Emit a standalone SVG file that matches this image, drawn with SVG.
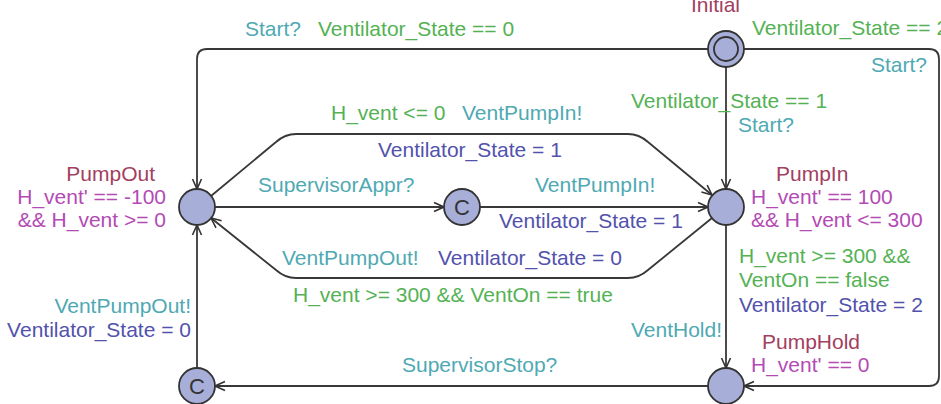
<svg xmlns="http://www.w3.org/2000/svg" width="941" height="404" viewBox="0 0 941 404">
<style>
text{font-family:"Liberation Sans",Arial,sans-serif;font-size:21px}
.g{fill:#54b254}.s{fill:#4fa9b3}.u{fill:#5252ad}.n{fill:#a2405f}.i{fill:#b44ab4}
.loc{fill:#a7aed7;stroke:#333;stroke-width:1.8}
.e{fill:none;stroke:#383838;stroke-width:1.8}
.c{fill:#333;font-size:22px}
</style>
<defs>
<marker id="arr" viewBox="0 0 12 12" refX="11" refY="6" markerWidth="12" markerHeight="12" orient="auto" markerUnits="userSpaceOnUse">
<path d="M1,1.5 L11,6 L1,10.5" fill="none" stroke="#333" stroke-width="1.6"/>
</marker>
</defs>
<rect width="941" height="404" fill="#fff"/>
<g id="connectors">
<path class="e" marker-end="url(#arr)" d="M708,49 L207,49 Q197,49 197,59 L197,189"/>
<path class="e" marker-end="url(#arr)" d="M726,67 L726,189"/>
<path class="e" marker-end="url(#arr)" d="M744,49 L929,49 Q939,49 939,59 L939,376 Q939,386 929,386 L744,386"/>
<path class="e" marker-end="url(#arr)" d="M211,196 L276,142 Q285,134 296,134 L628,134 Q639,134 648,142 L712,195"/>
<path class="e" marker-end="url(#arr)" d="M215,207 L444,207"/>
<path class="e" marker-end="url(#arr)" d="M480,207 L708,207"/>
<path class="e" marker-end="url(#arr)" d="M712,218 L648,270 Q639,278 628,278 L296,278 Q285,278 276,270 L211,218"/>
<path class="e" marker-end="url(#arr)" d="M726,225 L726,368"/>
<path class="e" marker-end="url(#arr)" d="M708,386 L215,386"/>
<path class="e" marker-end="url(#arr)" d="M197,368 L197,225"/>
<g id="edge-labels">
<text class="s" x="245" y="36">Start?</text>
<text class="g" x="318" y="36">Ventilator_State == 0</text>
<text class="g" x="752" y="35">Ventilator_State == 2</text>
<text class="s" x="871" y="72">Start?</text>
<text class="g" x="631" y="108">Ventilator_State == 1</text>
<text class="s" x="738" y="132">Start?</text>
<text class="g" x="331" y="120">H_vent &lt;= 0</text>
<text class="s" x="462" y="120">VentPumpIn!</text>
<text class="u" x="378" y="157">Ventilator_State = 1</text>
<text class="s" x="258" y="192">SupervisorAppr?</text>
<text class="s" x="535" y="192">VentPumpIn!</text>
<text class="u" x="499" y="228">Ventilator_State = 1</text>
<text class="s" x="282" y="265">VentPumpOut!</text>
<text class="u" x="438" y="265">Ventilator_State = 0</text>
<text class="g" x="293" y="302">H_vent &gt;= 300 &amp;&amp; VentOn == true</text>
<text class="g" x="739" y="263">H_vent &gt;= 300 &amp;&amp;</text>
<text class="g" x="739" y="287">VentOn == false</text>
<text class="u" x="739" y="312">Ventilator_State = 2</text>
<text class="s" x="722" y="337" text-anchor="end">VentHold!</text>
<text class="s" x="402" y="372">SupervisorStop?</text>
<text class="s" x="191" y="313" text-anchor="end">VentPumpOut!</text>
<text class="u" x="191" y="337" text-anchor="end">Ventilator_State = 0</text>
</g>
</g>
<g id="Initial">
<circle class="loc" cx="726" cy="49" r="18"/>
<circle cx="726" cy="49" r="12" fill="none" stroke="#333" stroke-width="1.8"/>
<text class="n" x="691" y="12">Initial</text>
</g>
<g id="PumpOut">
<circle class="loc" cx="197" cy="207" r="18"/>
<text class="n" x="155" y="181" text-anchor="end">PumpOut</text>
<text class="i" x="166" y="204" text-anchor="end">H_vent' == -100</text>
<text class="i" x="166" y="227" text-anchor="end">&amp;&amp; H_vent &gt;= 0</text>
</g>
<g id="Committed1">
<circle class="loc" cx="462" cy="207" r="18"/>
<text class="c" x="462" y="215" text-anchor="middle">C</text>
</g>
<g id="PumpIn">
<circle class="loc" cx="726" cy="207" r="18"/>
<text class="n" x="776" y="181">PumpIn</text>
<text class="i" x="751" y="204">H_vent' == 100</text>
<text class="i" x="751" y="227">&amp;&amp; H_vent &lt;= 300</text>
</g>
<g id="Committed2">
<circle class="loc" cx="197" cy="386" r="18"/>
<text class="c" x="197" y="394" text-anchor="middle">C</text>
</g>
<g id="PumpHold">
<circle class="loc" cx="726" cy="386" r="18"/>
<text class="n" x="762" y="349">PumpHold</text>
<text class="i" x="751" y="372">H_vent' == 0</text>
</g>
</svg>
